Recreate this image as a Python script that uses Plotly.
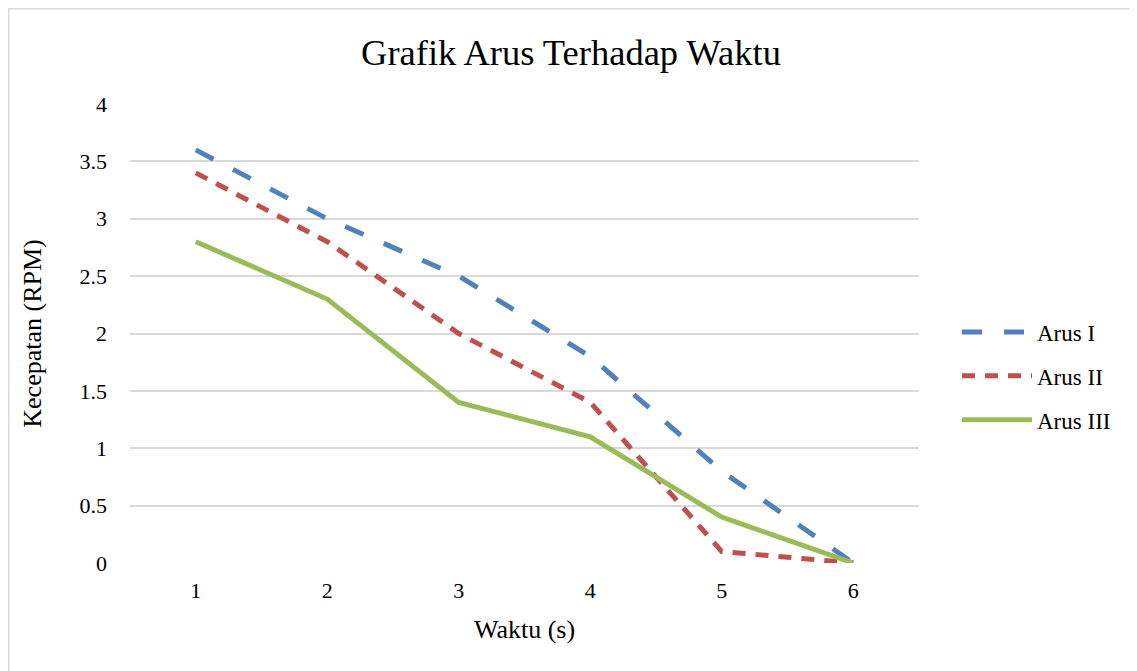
import plotly.graph_objects as go

waktu = [1, 2, 3, 4, 5, 6]
arus_1 = [3.6, 3.0, 2.5, 1.8, 0.8, 0.0]
arus_2 = [3.4, 2.8, 2.0, 1.4, 0.1, 0.0]
arus_3 = [2.8, 2.3, 1.4, 1.1, 0.4, 0.0]
y_ticks = [0, 0.5, 1, 1.5, 2, 2.5, 3, 3.5, 4]
y_tick_labels = ["0", "0.5", "1", "1.5", "2", "2.5", "3", "3.5", "4"]

FONT = "Liberation Serif, Times New Roman, serif"

fig = go.Figure()
fig.add_trace(go.Scatter(x=waktu, y=arus_1, mode="lines", name="Arus I", legendgroup="a1",
                         line=dict(color="#4F81BD", width=5, dash="20px,22px")))
fig.add_trace(go.Scatter(x=waktu, y=arus_2, mode="lines", name="Arus II", legendgroup="a2",
                         line=dict(color="#C0504D", width=5, dash="13px,10px")))
fig.add_trace(go.Scatter(x=waktu, y=arus_3, mode="lines", name="Arus III", legendgroup="a3",
                         line=dict(color="#9BBB59", width=5)))

OFF = 8  # page body margin
W, H = 1137 - OFF, 671 - OFF
L, T = 130 - OFF, 104 - OFF
R, B = W - (919 - OFF), H - (563 - OFF)
pw, ph = W - L - R, H - T - B

tick_font = dict(family=FONT, size=22, color="black")
title_font = dict(family=FONT, size=26, color="black")

fig.update_layout(
    width=W, height=H,
    margin=dict(l=L, r=R, t=T, b=B, pad=0),
    paper_bgcolor="white", plot_bgcolor="white",
    font=dict(family=FONT, size=22, color="black"),
    title=dict(text="Grafik Arus Terhadap Waktu", x=(571 - OFF) / W, xanchor="center",
               y=1 - (52 - OFF) / H, yanchor="middle",
               font=dict(family=FONT, size=36.5, color="black")),
    xaxis=dict(range=[0.5, 6.5], tickmode="array", tickvals=waktu,
               ticktext=[str(v) for v in waktu], showgrid=False, zeroline=False,
               showline=False, ticks="", ticklabelstandoff=12, tickfont=tick_font,
               title=dict(text="Waktu (s)", standoff=17, font=title_font)),
    yaxis=dict(range=[0, 4], tickmode="array", tickvals=y_ticks, ticktext=y_tick_labels,
               showgrid=True, gridcolor="#D9D9D9", gridwidth=1.5, zeroline=False,
               showline=False, ticks="", ticklabelstandoff=22, tickfont=tick_font,
               title=dict(text="Kecepatan (RPM)", standoff=30, font=title_font)),
    legend=dict(x=(949 - L) / pw, xanchor="left",
                y=((563 - OFF) - (376 - OFF)) / ph, yanchor="middle",
                bgcolor="rgba(0,0,0,0)", font=dict(family=FONT, size=23, color="black"),
                itemwidth=70, tracegroupgap=11),
    showlegend=True,
)

# chart border
fig.add_shape(type="rect", xref="paper", yref="paper",
              x0=(0.5 - L) / pw, x1=(W + 20 - L) / pw,
              y0=-(B + 20) / ph, y1=1 + (T - 0.5) / ph,
              line=dict(color="#D9D9D9", width=2), fillcolor="rgba(0,0,0,0)", layer="below")

fig.write_html("out.html")
